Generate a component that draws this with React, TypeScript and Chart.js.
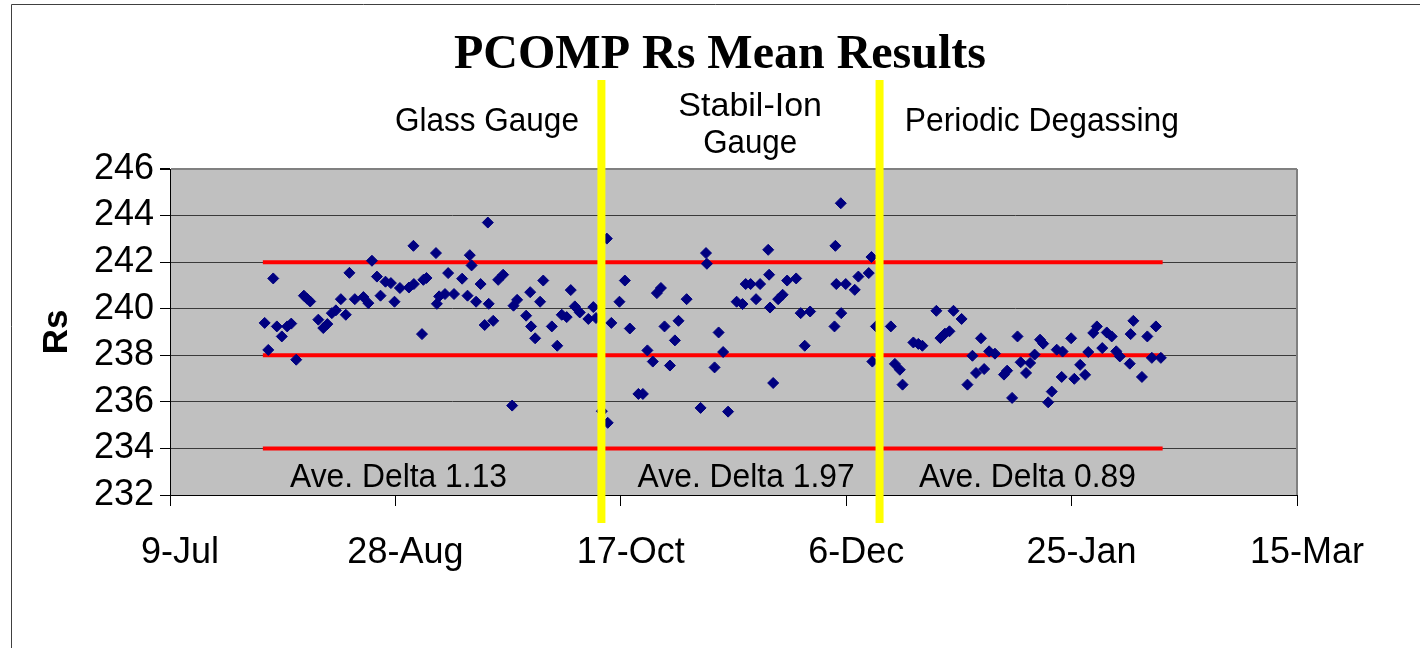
import React, { useEffect, useRef } from "react";
import { Chart, registerables } from "chart.js";

Chart.register(...registerables);

// ---- Data ----
const titleText = "PCOMP Rs Mean Results";
const yAxisTitle = "Rs";
const xTickLabels = ["9-Jul", "28-Aug", "17-Oct", "6-Dec", "25-Jan", "15-Mar"];
const xTickStep = 50; // days between labelled ticks
const yMin = 232;
const yMax = 246;
const yStep = 2;

// days after 9-Jul
const rsDays = [
  21.0, 21.8, 22.9, 23.7, 24.8, 26.0, 26.9, 28.0, 29.7, 30.4,
  31.1, 32.9, 34.0, 34.9, 35.9, 36.8, 37.9, 39.0, 39.8, 41.0,
  42.9, 44.0, 44.8, 45.9, 46.7, 47.8, 49.0, 49.8, 51.0, 53.0,
  54.0, 54.1, 55.9, 56.2, 56.9, 59.0, 59.2, 59.7, 61.0, 61.7,
  63.0, 64.8, 66.0, 66.5, 66.9, 67.9, 68.9, 69.8, 70.5, 70.7,
  71.7, 72.8, 73.9, 75.9, 76.2, 77.0, 79.0, 79.9, 80.1, 81.0,
  82.1, 82.8, 84.7, 85.9, 86.9, 88.0, 88.9, 89.8, 90.9, 92.8,
  93.9, 94.5, 95.8, 96.9, 97.1, 97.9, 99.7, 100.9, 102.0, 103.9,
  104.9, 105.9, 107.1, 108.0, 108.9, 109.7, 110.9, 112.0, 112.8, 114.6,
  117.7, 118.9, 119.1, 120.8, 121.7, 122.7, 123.8, 125.7, 127.0, 127.7,
  128.8, 130.9, 130.0, 132.7, 132.9, 133.1, 133.8, 134.9, 135.9, 136.9,
  138.9, 139.9, 142.0, 140.8, 147.6, 147.8, 147.4, 148.8, 148.9, 149.9,
  151.9, 152.7, 155.0, 155.6, 155.8, 156.6, 159.9, 160.8, 161.9, 162.5,
  164.9, 166.0, 166.9, 170.0, 170.9, 171.9, 172.9, 173.8, 175.6, 176.9,
  178.0, 178.8, 179.9, 180.6, 181.7, 183.0, 185.0, 185.7, 186.8, 188.0,
  188.7, 189.9, 190.8, 191.8, 193.0, 193.7, 194.8, 195.6, 196.7, 198.0,
  197.8, 199.9, 200.6, 201.9, 203.0, 203.7, 204.8, 205.6, 206.8, 207.8,
  208.9, 209.9, 210.7, 212.9, 213.1, 213.7, 215.6, 216.8, 217.8, 218.7,
  219.8,
];

const rsValues = [
  239.39, 238.23, 241.30, 239.24, 238.81, 239.24, 239.36, 237.81, 240.56, 240.43,
  240.31, 239.53, 239.17, 239.34, 239.81, 239.93, 240.41, 239.74, 241.54, 240.41,
  240.50, 240.24, 242.06, 241.38, 240.56, 241.16, 241.10, 240.30, 240.89, 240.91,
  242.70, 241.06, 238.91, 241.24, 241.32, 242.39, 240.21, 240.53, 240.63, 241.53,
  240.63, 241.29, 240.56, 242.30, 241.86, 240.30, 241.06, 239.30, 243.70, 240.21,
  239.48, 241.24, 241.46, 235.84, 240.13, 240.38, 239.70, 240.71, 239.24, 238.73,
  240.30, 241.21, 239.24, 238.41, 239.74, 239.64, 240.80, 240.10, 239.84, 239.56,
  240.07, 239.60, 235.60, 243.01, 235.10, 239.39, 240.30, 241.21, 239.15, 236.34,
  236.34, 238.21, 237.73, 240.67, 240.89, 239.24, 237.56, 238.64, 239.48, 240.41,
  235.74, 242.39, 241.93, 237.48, 238.98, 238.14, 235.58, 240.30, 240.20, 241.06,
  241.06, 241.06, 240.41, 242.53, 241.46, 240.05, 236.81, 240.41, 240.60, 241.21,
  241.30, 239.81, 239.88, 238.41, 242.70, 241.06, 239.24, 244.53, 239.81, 241.06,
  240.81, 241.38, 241.53, 242.22, 237.73, 239.24, 239.24, 237.63, 237.38, 236.74,
  238.55, 238.49, 238.41, 239.91, 238.74, 238.93, 239.03, 239.91, 239.56, 236.74,
  237.98, 237.24, 238.73, 237.41, 238.17, 238.07, 237.17, 237.34, 236.17, 238.81,
  237.70, 237.24, 237.67, 238.03, 238.67, 238.50, 235.98, 236.44, 238.24, 238.16,
  237.07, 238.73, 236.99, 237.59, 237.16, 238.14, 238.96, 239.24, 238.31, 238.98,
  238.81, 238.17, 237.95, 237.64, 238.91, 239.48, 237.07, 238.81, 237.89, 239.24,
  237.89,
];

// red control lines
const limitValues = [242, 238, 234];
const limitStartDay = 20.6;
const limitEndDay = 220.2;

// yellow period dividers (days after 9-Jul)
const dividerDays = [95.7, 157.4];

// period labels above the plot
const periodLabelLines = [["Glass Gauge"], ["Stabil-Ion", "Gauge"], ["Periodic Degassing"]];
const periodLabelDays = [70.3, 128.7, 193.4];

// average delta labels inside the plot
const deltaLabels = ["Ave. Delta 1.13", "Ave. Delta 1.97", "Ave. Delta 0.89"];
const deltaLabelDays = [50.7, 127.8, 190.2];

const SANS = "'Liberation Sans', Arial, sans-serif";
const SERIF = "'Liberation Serif', 'Times New Roman', serif";

const decorPlugin = {
  id: "decor",
  beforeDraw(chart: any) {
    const { ctx, chartArea: a } = chart;
    ctx.save();
    ctx.fillStyle = "#ffffff";
    ctx.fillRect(0, 0, chart.width, chart.height);
    ctx.fillStyle = "#C0C0C0";
    ctx.fillRect(a.left, a.top, a.right - a.left, a.bottom - a.top);
    // outer frame
    ctx.strokeStyle = "#404040";
    ctx.lineWidth = 1;
    ctx.beginPath();
    ctx.moveTo(11.5, chart.height);
    ctx.lineTo(11.5, 4.5);
    ctx.lineTo(chart.width, 4.5);
    ctx.stroke();
    ctx.restore();
  },
  beforeDatasetsDraw(chart: any) {
    const { ctx, chartArea: a } = chart;
    ctx.save();
    ctx.strokeStyle = "#808080";
    ctx.lineWidth = 2;
    ctx.beginPath();
    ctx.moveTo(a.right, a.top);
    ctx.lineTo(a.right, a.bottom);
    ctx.stroke();
    ctx.restore();
  },
  afterDatasetsDraw(chart: any) {
    const { ctx, chartArea: a } = chart;
    const xs = chart.scales.x;
    ctx.save();
    ctx.strokeStyle = "#FFFF00";
    ctx.lineWidth = 8;
    dividerDays.forEach((d) => {
      const px = xs.getPixelForValue(d);
      ctx.beginPath();
      ctx.moveTo(px, a.top - 89);
      ctx.lineTo(px, a.bottom + 28);
      ctx.stroke();
    });
    ctx.restore();
  },
  afterDraw(chart: any) {
    const { ctx, chartArea: a } = chart;
    const xs = chart.scales.x;
    ctx.save();
    ctx.fillStyle = "#000";
    // title
    ctx.font = `bold 48px ${SERIF}`;
    ctx.textAlign = "center";
    ctx.textBaseline = "alphabetic";
    ctx.fillText(titleText, chart.width / 2 + 10, 68);

    // period labels
    ctx.font = `34px ${SANS}`;
    periodLabelLines.forEach((lines, i) => {
      const px = xs.getPixelForValue(periodLabelDays[i]);
      if (lines.length === 1) {
        ctx.fillText(lines[0], px, a.top - 38, lines[0].length > 12 ? 274 : 184);
      } else {
        ctx.fillText(lines[0], px, a.top - 53, 146);
        ctx.fillText(lines[1], px, a.top - 16, 94);
      }
    });

    // delta labels
    deltaLabels.forEach((t, i) => {
      const px = xs.getPixelForValue(deltaLabelDays[i]);
      ctx.fillText(t, px, a.bottom - 8, 217);
    });

    // y axis title
    ctx.font = `bold 35px ${SANS}`;
    ctx.translate(67, (a.top + a.bottom) / 2);
    ctx.rotate(-Math.PI / 2);
    ctx.fillText(yAxisTitle, 0, 0);
    ctx.restore();
  },
};

export default function App() {
  const canvasRef = useRef<HTMLCanvasElement | null>(null);

  useEffect(() => {
    const canvas = canvasRef.current;
    if (!canvas) return;
    const scatterData = rsDays.map((d, i) => ({ x: d, y: rsValues[i] }));
    const limitSets = limitValues.map((v) => ({
      type: "scatter" as const,
      label: `limit ${v}`,
      data: [
        { x: limitStartDay, y: v },
        { x: limitEndDay, y: v },
      ],
      showLine: true,
      borderColor: "#FF0000",
      backgroundColor: "#FF0000",
      borderWidth: 4,
      pointRadius: 0,
      order: 2,
    }));

    const chart = new Chart(canvas, {
      type: "scatter",
      data: {
        datasets: [
          {
            label: "Rs mean",
            data: scatterData,
            pointStyle: "rectRot",
            pointRadius: 5.5,
            pointBorderWidth: 1,
            backgroundColor: "#000080",
            borderColor: "#000080",
            order: 1,
          },
          ...limitSets,
        ],
      },
      options: {
        responsive: false,
        maintainAspectRatio: false,
        animation: false,
        devicePixelRatio: 1,
        layout: { padding: { left: 0, top: 169, right: 123, bottom: 53 } },
        plugins: {
          legend: { display: false },
          title: { display: false },
          tooltip: { enabled: false },
        },
        scales: {
          x: {
            type: "linear",
            min: 0,
            max: xTickStep * (xTickLabels.length - 1),
            afterFit: (s: any) => {
              s.height = 100;
              s.paddingLeft = 0;
              s.paddingRight = 0;
            },
            ticks: {
              stepSize: xTickStep,
              autoSkip: false,
              maxRotation: 0,
              minRotation: 0,
              padding: 25,
              labelOffset: 10,
              color: "#000",
              font: { family: SANS, size: 36 },
              callback: (v: any) => xTickLabels[Math.round(Number(v) / xTickStep)] ?? "",
            },
            grid: {
              drawOnChartArea: false,
              drawTicks: true,
              tickLength: 11,
              tickColor: "#000",
            },
            border: { color: "#000", width: 1 },
          },
          y: {
            type: "linear",
            min: yMin,
            max: yMax,
            afterFit: (s: any) => {
              s.width = 170;
              s.paddingTop = 0;
              s.paddingBottom = 0;
            },
            ticks: {
              stepSize: yStep,
              padding: 6,
              color: "#000",
              font: { family: SANS, size: 36 },
            },
            grid: {
              drawTicks: true,
              tickLength: 10,
              tickColor: "#000",
              color: (c: any) => (c.tick && c.tick.value === yMax ? "#808080" : "#3a3a3a"),
              lineWidth: (c: any) => (c.tick && c.tick.value === yMax ? 2 : 1),
            },
            border: { color: "#000", width: 1 },
          },
        },
      },
      plugins: [decorPlugin],
    });
    return () => chart.destroy();
  }, []);

  return (
    <div style={{ position: "absolute", left: 0, top: 0, width: 1420, height: 648, background: "#fff" }}>
      <canvas ref={canvasRef} width={1420} height={648} style={{ display: "block", width: 1420, height: 648 }} />
    </div>
  );
}
